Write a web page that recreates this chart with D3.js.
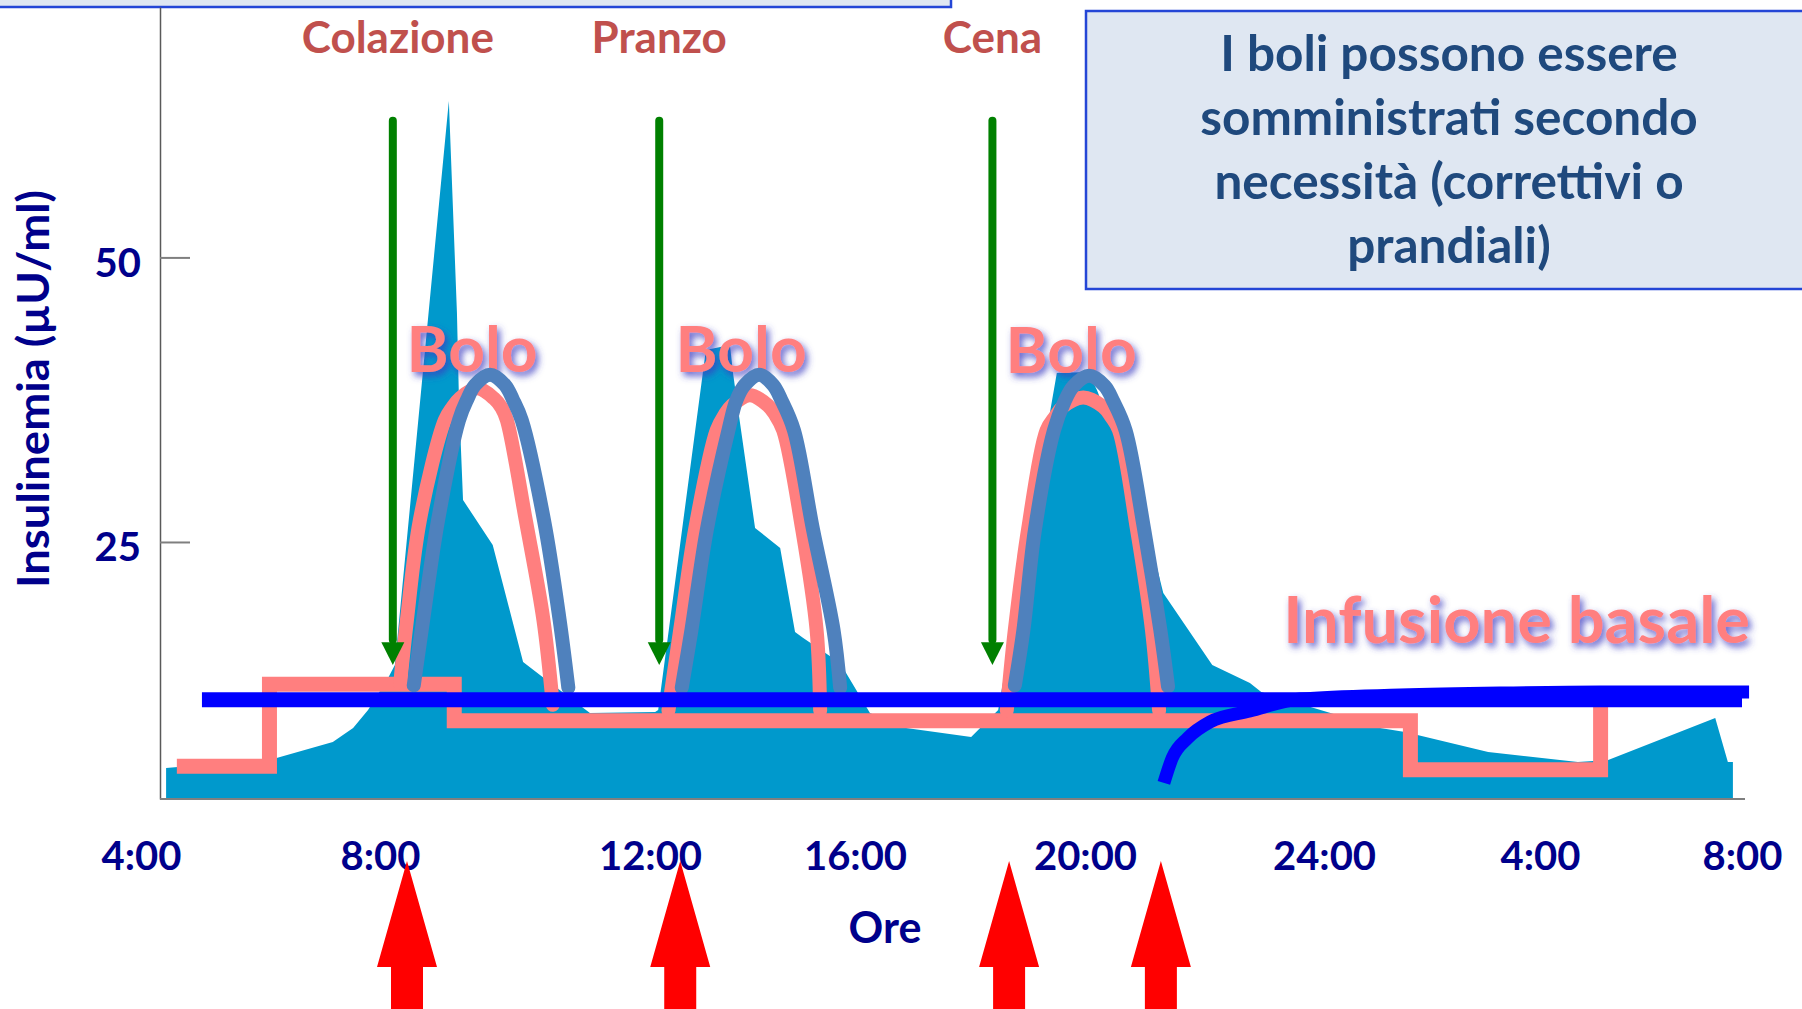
<!DOCTYPE html>
<html>
<head>
<meta charset="UTF-8">
<title>Insulinemia - boli e infusione basale</title>
<script src="https://cdn.jsdelivr.net/npm/d3@7"></script>
<style>
  body { margin: 0; background: #fff; }
  svg { display: block; font-family: Lato, "Open Sans", sans-serif; font-weight: 700; }
</style>
</head>
<body>
<svg id="chart" width="1802" height="1009"></svg>
<script>
// asse x: ore (dopo le 24 si continua col giorno dopo)
var tickHours = [4, 8, 12, 16, 20, 24, 28, 32];
var tickLabels = ["4:00", "8:00", "12:00", "16:00", "20:00", "24:00", "4:00", "8:00"];
var yTicks = [25, 50];

// pasti (frecce verdi)
var mealNames = ["Colazione", "Pranzo", "Cena"];
var mealHours = [8.19, 12.18, 18.39];

// boli somministrati (frecce rosse)
var bolusHours = [8.4, 12.59, 18.68, 21.27];

// insulinemia fisiologica (area azzurra)
var physioHours = [4.42, 6.21, 7.21, 7.55, 7.80, 8.12, 8.22, 9.02, 9.14, 9.17, 9.23, 9.67, 10.12, 10.37, 11.11,
  12.10, 12.16, 13.09, 13.56, 13.62, 13.72, 14.05, 14.54, 14.83, 14.99, 15.71, 16.26, 16.89, 18.02, 18.49,
  19.51, 20.05, 20.20, 20.59, 21.09, 21.31, 22.13, 22.76, 22.95, 25.04, 25.50, 27.04, 28.75, 29.35, 31.47, 31.72, 31.82];
var physioValues = [5.15, 5.94, 7.43, 8.66, 10.24, 13.05, 14.19, 63.74, 45.12, 37.47, 28.69, 24.74, 14.46, 13.32, 9.98,
  10.07, 10.24, 41.87, 42.31, 39.85, 36.6, 26.23, 24.47, 17.09, 16.57, 14.37, 9.98, 8.66, 7.87, 10.24,
  39.85, 39.93, 38.35, 33.08, 25.18, 20.52, 14.19, 12.61, 11.82, 8.66, 8.31, 6.55, 5.67, 5.85, 9.54, 5.67, 5.67];

// infusione basale a gradini (linea rosa)
var basalHours = [4.6, 6.15, 9.1, 25.6, 29.2];
var basalRates = [5.3, 12.5, 9.3, 5.0, 11.1];

// livello basale costante (linea blu) e curva della pompa
var basalLevelHours = [5.02, 32.0];
var basalLevel = 11.15;
var pumpHours = [21.32, 21.46, 21.72, 22.09, 22.76, 23.6, 25.41, 27.26, 29.19, 32.14];
var pumpValues = [3.83, 6.02, 7.78, 9.19, 10.15, 11.2, 11.55, 11.73, 11.82, 11.82];

// curve dei boli: rosa e blu, una per pasto
var bolusPink = [
  [[8.30, 12.6], [8.40, 18.2], [8.59, 26.9], [8.96, 35.7], [9.07, 36.8], [9.18, 37.6], [9.44, 38.5], [9.69, 37.6], [9.80, 36.8], [9.88, 35.7], [10.16, 26.9], [10.42, 18.2], [10.56, 10.7]],
  [[12.36, 10.2], [12.59, 17.3], [12.88, 26.1], [13.30, 34.8], [13.46, 36.2], [13.60, 37.0], [13.95, 37.9], [14.30, 37.0], [14.44, 36.2], [14.60, 34.8], [14.97, 26.1], [15.25, 17.3], [15.32, 10.2]],
  [[18.64, 10.2], [18.78, 17.3], [19.01, 26.1], [19.33, 34.8], [19.48, 36.0], [19.62, 36.9], [19.97, 37.7], [20.30, 36.9], [20.44, 36.0], [20.57, 34.8], [20.87, 26.1], [21.12, 17.3], [21.24, 10.2]]
];
var bolusBlue = [
  [[8.50, 12.4], [8.64, 18.2], [8.86, 26.9], [9.17, 35.7], [9.29, 37.5], [9.41, 38.8], [9.63, 39.7], [9.85, 38.8], [9.97, 37.5], [10.10, 35.7], [10.43, 26.9], [10.66, 18.2], [10.79, 12.2]],
  [[12.62, 12.2], [12.81, 17.3], [13.11, 26.1], [13.53, 34.8], [13.69, 37.5], [13.85, 38.8], [14.13, 39.7], [14.40, 38.8], [14.56, 37.5], [14.81, 34.8], [15.18, 26.1], [15.58, 17.3], [15.71, 12.2]],
  [[18.78, 12.4], [18.93, 17.3], [19.13, 26.1], [19.46, 34.8], [19.65, 37.4], [19.80, 38.7], [20.07, 39.6], [20.33, 38.7], [20.47, 37.4], [20.68, 34.8], [20.99, 26.1], [21.26, 17.3], [21.39, 12.3]]
];

var noteLines = ["I boli possono essere", "somministrati secondo", "necessità (correttivi o", "prandiali)"];

var navy = "#00008B";
var svg = d3.select("#chart");

// scala x a tratti: le etichette dell'originale non sono equidistanti
var x = d3.scaleLinear().domain(tickHours).range([141, 380, 650, 855, 1085, 1324, 1540, 1742]);
var y = d3.scaleLinear().domain([2.42, 72]).range([799, 7]);

// filtro per l'alone delle scritte rosa
var defs = svg.append("defs");
var f = defs.append("filter").attr("id", "glow")
  .attr("x", "-20%").attr("y", "-50%").attr("width", "140%").attr("height", "200%");
f.append("feGaussianBlur").attr("in", "SourceAlpha").attr("stdDeviation", 3.5).attr("result", "b");
f.append("feOffset").attr("in", "b").attr("dx", 3).attr("dy", 4).attr("result", "o");
f.append("feFlood").attr("flood-color", "#3c3cc0").attr("flood-opacity", 0.8);
f.append("feComposite").attr("in2", "o").attr("operator", "in").attr("result", "s");
var fm = f.append("feMerge");
fm.append("feMergeNode").attr("in", "s");
fm.append("feMergeNode").attr("in", "SourceGraphic");

// riquadri in alto
svg.append("rect").attr("x", -5).attr("y", -20).attr("width", 956).attr("height", 27)
  .attr("fill", "#dfe7f2").attr("stroke", "#2446d6").attr("stroke-width", 2.5);
svg.append("rect").attr("x", 1086).attr("y", 11).attr("width", 740).attr("height", 278)
  .attr("fill", "#dfe7f2").attr("stroke", "#2446d6").attr("stroke-width", 2.5);
svg.append("g").selectAll("text").data(noteLines).enter().append("text")
  .attr("x", 1449)
  .attr("y", function (d, i) { return 71 + 64 * i; })
  .attr("text-anchor", "middle")
  .attr("font-size", 49.5)
  .attr("fill", "#1f497d")
  .text(function (d) { return d; });

// area insulinemia fisiologica
var physio = physioHours.map(function (h, i) { return [h, physioValues[i]]; });
svg.append("path").datum(physio)
  .attr("fill", "#0099cc")
  .attr("d", d3.area()
    .x(function (d) { return x(d[0]); })
    .y0(y(2.42))
    .y1(function (d) { return y(d[1]); }));

// assi
var gy = svg.append("g").attr("transform", "translate(160,0)")
  .call(d3.axisLeft(y).tickValues(yTicks).tickSize(-30).tickSizeOuter(0).tickPadding(19));
gy.attr("font-family", null).attr("font-size", null);
gy.select(".domain").attr("stroke", "#595959").attr("stroke-width", 1.5);
gy.selectAll(".tick line").attr("stroke", "#7f7f7f").attr("stroke-width", 2);
gy.selectAll(".tick text").attr("font-size", 40).attr("fill", navy).attr("dy", 19);

svg.append("line").attr("x1", 160).attr("x2", 1745).attr("y1", 799).attr("y2", 799)
  .attr("stroke", "#7f7f7f").attr("stroke-width", 2);

var gx = svg.append("g").attr("transform", "translate(0,799)")
  .call(d3.axisBottom(x).tickValues(tickHours).tickSize(0).tickPadding(43)
    .tickFormat(function (d, i) { return tickLabels[i]; }));
gx.attr("font-family", null).attr("font-size", null);
gx.select(".domain").remove();
gx.selectAll(".tick text").attr("font-size", 40).attr("fill", navy);

svg.append("text").attr("x", 885).attr("y", 943).attr("text-anchor", "middle")
  .attr("font-size", 43).attr("fill", navy).text("Ore");
svg.append("text").attr("transform", "translate(49,389) rotate(-90)").attr("text-anchor", "middle")
  .attr("font-size", 43).attr("fill", navy)
  .attr("textLength", 398).attr("lengthAdjust", "spacingAndGlyphs")
  .text("Insulinemia (µU/ml)");

// scritte "Bolo" sopra i picchi
svg.append("g").selectAll("text").data(bolusBlue).enter().append("text")
  .attr("x", function (d) { return x(d3.greatest(d, function (p) { return p[1]; })[0]) - 18; })
  .attr("y", function (d) { return y(d3.max(d, function (p) { return p[1]; })) - 3; })
  .attr("text-anchor", "middle")
  .attr("font-size", 64)
  .attr("fill", "#ff7f7f")
  .attr("filter", "url(#glow)")
  .text("Bolo");

// infusione basale a gradini
var basal = basalHours.map(function (h, i) { return [h, basalRates[i]]; });
svg.append("path").datum(basal)
  .attr("fill", "none").attr("stroke", "#ff7f7f").attr("stroke-width", 15)
  .attr("stroke-linejoin", "miter")
  .attr("d", d3.line().curve(d3.curveStepAfter)
    .x(function (d) { return x(d[0]); })
    .y(function (d) { return y(d[1]); }));

// curve dei boli
var arc = d3.line().curve(d3.curveCatmullRom.alpha(0.5))
  .x(function (d) { return x(d[0]); })
  .y(function (d) { return y(d[1]); });
svg.append("g").selectAll("path").data(bolusPink).enter().append("path")
  .attr("fill", "none").attr("stroke", "#ff7f7f").attr("stroke-width", 14)
  .attr("stroke-linecap", "round").attr("d", arc);
svg.append("g").selectAll("path").data(bolusBlue).enter().append("path")
  .attr("fill", "none").attr("stroke", "#4f81bd").attr("stroke-width", 14)
  .attr("stroke-linecap", "round").attr("d", arc);

// livello basale e curva della pompa
svg.append("line")
  .attr("x1", x(basalLevelHours[0])).attr("x2", x(basalLevelHours[1]))
  .attr("y1", y(basalLevel)).attr("y2", y(basalLevel))
  .attr("stroke", "#0000ff").attr("stroke-width", 15);
var pump = pumpHours.map(function (h, i) { return [h, pumpValues[i]]; });
svg.append("path").datum(pump)
  .attr("fill", "none").attr("stroke", "#0000ff").attr("stroke-width", 13)
  .attr("d", d3.line().curve(d3.curveMonotoneX)
    .x(function (d) { return x(d[0]); })
    .y(function (d) { return y(d[1]); }));

// frecce verdi dei pasti
var meals = svg.append("g").selectAll("g").data(mealHours).enter().append("g");
meals.append("line")
  .attr("x1", function (d) { return x(d); }).attr("x2", function (d) { return x(d); })
  .attr("y1", y(62)).attr("y2", y(16.4))
  .attr("stroke", "#008000").attr("stroke-width", 8).attr("stroke-linecap", "round");
meals.append("path")
  .attr("fill", "#008000")
  .attr("d", function (d) {
    var cx = x(d), tip = y(14.2), base = y(16.2);
    return "M" + (cx - 11.5) + "," + base + "L" + (cx + 11.5) + "," + base + "L" + cx + "," + tip + "Z";
  });
meals.append("text")
  .attr("x", function (d, i) { return x(d) + (i === 0 ? 5 : 0); })
  .attr("y", 53)
  .attr("text-anchor", "middle")
  .attr("font-size", 44)
  .attr("fill", "#c0504d")
  .text(function (d, i) { return mealNames[i]; });

// frecce rosse dei boli
svg.append("g").selectAll("path").data(bolusHours).enter().append("path")
  .attr("fill", "#ff0000")
  .attr("d", function (d) {
    var cx = x(d), t = 861;
    return "M" + cx + "," + t +
      "L" + (cx + 30) + "," + (t + 106) + "L" + (cx + 16) + "," + (t + 106) +
      "L" + (cx + 16) + "," + (t + 148) + "L" + (cx - 16) + "," + (t + 148) +
      "L" + (cx - 16) + "," + (t + 106) + "L" + (cx - 30) + "," + (t + 106) + "Z";
  });

svg.append("text").attr("x", 1750).attr("y", 643).attr("text-anchor", "end")
  .attr("font-size", 65).attr("fill", "#ff7f7f").attr("filter", "url(#glow)")
  .text("Infusione basale");
</script>
</body>
</html>
